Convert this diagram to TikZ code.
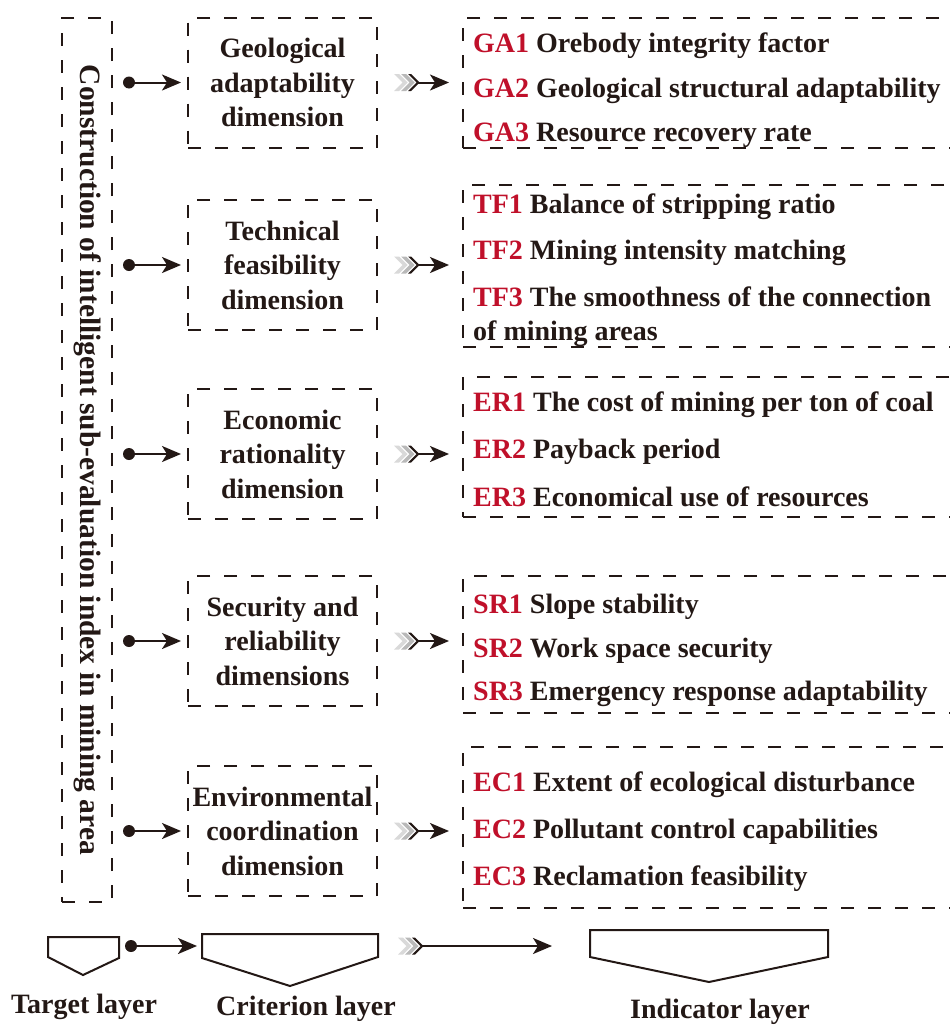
\documentclass[tikz,border=0pt]{standalone}
\usepackage{fontspec}
\setmainfont{Liberation Serif}
\usetikzlibrary{arrows.meta}
\definecolor{ink}{HTML}{231815}
\definecolor{redc}{HTML}{C0102A}
\tikzset{
  dbox/.style={draw=ink, line width=2pt, dash pattern=on 13pt off 14pt, inner sep=0pt},
  txt/.style={font=\fontsize{28}{34.5}\selectfont\bfseries, text=ink},
  arr/.style={-{Stealth[length=19pt,width=16pt,inset=5pt]}, line width=2pt, draw=ink},
  plain/.style={line width=2pt, draw=ink},
  ind/.style={txt, anchor=base west, inner sep=0pt}
}
\newcommand{\chevrons}[1]{%
  \fill[gray!30] (#1) ++(0,-8.5) -- ++(5,0) -- ++(8.5,8.5) -- ++(-8.5,8.5) -- ++(-5,0) -- ++(8.5,-8.5) -- cycle;
  \fill[gray!55] (#1) ++(7,-8.5) -- ++(5,0) -- ++(8.5,8.5) -- ++(-8.5,8.5) -- ++(-5,0) -- ++(8.5,-8.5) -- cycle;
  \fill[ink] (#1) ++(14,-8.5) -- ++(3,0) -- ++(8.5,8.5) -- ++(-8.5,8.5) -- ++(-3,0) -- ++(8.5,-8.5) -- cycle;
}
\begin{document}
\begin{tikzpicture}[x=1pt,y=-1pt]
\fill[white] (0,0) rectangle (950,1028);
\useasboundingbox (0,0) rectangle (950,1028);

% target layer
\node[dbox, minimum width=50pt, minimum height=884pt] (t) at (87,460) {};
\node[txt, font=\fontsize{29.5}{34.5}\selectfont\bfseries, rotate=-90] (tt) at (88,460) {Construction of intelligent sub-evaluation index in mining area};

% criterion layer
\node[dbox, txt, align=center, minimum width=189pt, minimum height=130pt] (c1) at (282.5,82.5) {Geological\\adaptability\\dimension};
\node[dbox, txt, align=center, minimum width=189pt, minimum height=130pt] (c2) at (282.5,265) {Technical\\feasibility\\dimension};
\node[dbox, txt, align=center, minimum width=189pt, minimum height=130pt] (c3) at (282.5,454) {Economic\\rationality\\dimension};
\node[dbox, txt, align=center, minimum width=189pt, minimum height=130pt] (c4) at (282.5,641) {Security and\\reliability\\dimensions};
\node[dbox, txt, align=center, minimum width=189pt, minimum height=130pt] (c5) at (282.5,831) {Environmental\\coordination\\dimension};

% indicator layer boxes
\node[dbox, minimum width=497pt, minimum height=130pt] (i1) at (711.5,83) {};
\node[dbox, minimum width=497pt, minimum height=162pt] (i2) at (711.5,266) {};
\node[dbox, minimum width=497pt, minimum height=140pt] (i3) at (711.5,447) {};
\node[dbox, minimum width=497pt, minimum height=137pt] (i4) at (711.5,644.5) {};
\node[dbox, minimum width=497pt, minimum height=161pt] (i5) at (711.5,827.5) {};

% indicator texts
\foreach \n/\y/\c/\t in {
  ga1/52/GA1/Orebody integrity factor,
  ga2/97/GA2/Geological structural adaptability,
  ga3/141/GA3/Resource recovery rate,
  tf1/213/TF1/Balance of stripping ratio,
  tf2/259/TF2/Mining intensity matching,
  tf3/306/TF3/The smoothness of the connection,
  er1/411/ER1/The cost of mining per ton of coal,
  er2/458/ER2/Payback period,
  er3/506/ER3/Economical use of resources,
  sr1/613/SR1/Slope stability,
  sr2/657/SR2/Work space security,
  sr3/700/SR3/Emergency response adaptability,
  ec1/791/EC1/Extent of ecological disturbance,
  ec2/838/EC2/Pollutant control capabilities,
  ec3/885/EC3/Reclamation feasibility}
  {\node[ind] (\n) at (473,\y) {\textcolor{redc}{\c} \t};}
\node[ind] (tf3b) at (473,340) {of mining areas};

% connectors target -> criterion, criterion -> indicator
\foreach \i in {1,...,5}{
  \path (t.east |- c\i) ++(16,0) coordinate (d\i);
  \fill[ink] (d\i) circle (6);
  \draw[arr, shorten >=6pt] (d\i) -- (c\i.west);
  \path (c\i.east) ++(16,0) coordinate (h\i);
  \chevrons{h\i}
  \path (h\i) ++(24,0) coordinate (hh\i);
  \draw[arr, shorten >=13pt] (hh\i) -- (hh\i -| i\i.west);
}

% legend
\draw[plain] (48,937) -- (119,937) -- (119,958) -- (83,975) -- (48,957) -- cycle;
\coordinate (pt) at (119,946);
\draw[plain] (202,934) -- (378,934) -- (378,957) -- (290,986) -- (202,958) -- cycle;
\coordinate (pc) at (202,946);
\coordinate (pcr) at (378,946);
\draw[plain] (590,930) -- (828,930) -- (828,957) -- (709,982) -- (590,957) -- cycle;
\coordinate (pi) at (590,946);
\path (pt) ++(12,0) coordinate (ld);
\fill[ink] (ld) circle (6);
\draw[arr, shorten >=5pt] (ld) -- (pc);
\path (pcr) ++(20,0) coordinate (lh);
\chevrons{lh}
\path (lh) ++(24,0) coordinate (lhh);
\draw[arr, shorten >=38pt] (lhh) -- (pi);

\node[txt] (lt) at (84,1007) {Target layer};
\node[txt] (lc) at (306,1009) {Criterion layer};
\node[txt] (li) at (720,1012) {Indicator layer};
\end{tikzpicture}
\end{document}
